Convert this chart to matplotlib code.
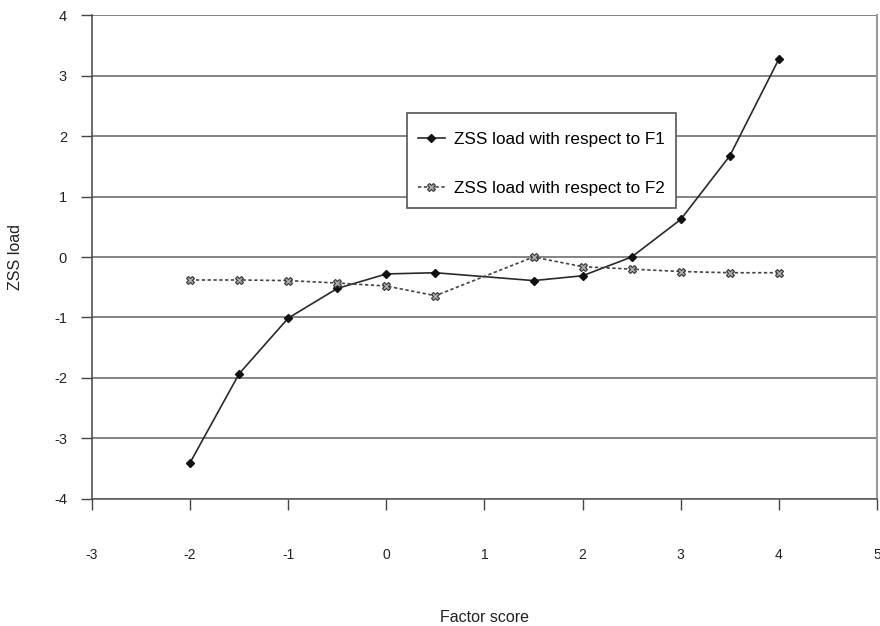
import matplotlib
matplotlib.use("Agg")
import matplotlib.pyplot as plt
from matplotlib.patches import Rectangle

plt.rcParams['font.family'] = ['Liberation Sans', 'DejaVu Sans']
plt.rcParams['axes.unicode_minus'] = False

f1_x = [-2, -1.5, -1, -0.5, 0, 0.5, 1.5, 2, 2.5, 3, 3.5, 4]
f1_y = [-3.40, -1.93, -1.01, -0.52, -0.28, -0.26, -0.39, -0.31, 0.00, 0.62, 1.67, 3.27]
f2_x = [-2, -1.5, -1, -0.5, 0, 0.5, 1.5, 2, 2.5, 3, 3.5, 4]
f2_y = [-0.38, -0.38, -0.39, -0.43, -0.48, -0.64, 0.00, -0.16, -0.20, -0.24, -0.26, -0.26]
x_ticks = [-3, -2, -1, 0, 1, 2, 3, 4, 5]
y_ticks = [-4, -3, -2, -1, 0, 1, 2, 3, 4]

fig = plt.figure(figsize=(8.8, 6.26), dpi=100)
ax = fig.add_axes([0.1045, 0.2029, 0.892, 0.7731])

for y in y_ticks:
    ax.axhline(y, color='#7a7a7a', lw=1.3, zorder=1)

ax.plot(f1_x, f1_y, color='#2a2a2a', lw=1.2, marker='D', ms=4.5,
        mfc='#111111', mec='#111111', label='ZSS load with respect to F1', zorder=3)
ax.plot(f2_x, f2_y, color='#444444', lw=1.2, ls=(0, (2, 1.5)), marker='X', ms=6,
        mfc='#aaaaaa', mec='#333333', mew=0.8, label='ZSS load with respect to F2', zorder=3)

ax.set_xlim(-3, 5)
ax.set_ylim(-4, 4)
ax.set_xticks(x_ticks)
ax.set_yticks(y_ticks)
ax.tick_params(axis='x', direction='out', length=8, width=1, color='#444444',
               pad=27, labelsize=10, labelcolor='#222222')
ax.tick_params(axis='y', direction='out', length=8, width=1, color='#444444',
               pad=10, labelsize=10.5, labelcolor='#222222')

ax.spines['top'].set_visible(False)
ax.spines['right'].set_color('#9a9a9a')
ax.spines['right'].set_linewidth(1.5)
ax.spines['left'].set_color('#444444')
ax.spines['bottom'].set_color('#555555')
ax.spines['left'].set_linewidth(1.1)
ax.spines['bottom'].set_linewidth(1.1)

ax.set_xlabel('Factor score', fontsize=11.5, color='#222222', labelpad=0)
ax.xaxis.set_label_coords(0.5, -0.245)
ax.xaxis.label.set_va('center')
ax.set_ylabel('ZSS load', fontsize=11.5, color='#222222', labelpad=22)

# legend frame
frame = Rectangle((0.401, 0.601), 0.343, 0.197, transform=ax.transAxes,
                  facecolor='white', edgecolor='#555555', lw=1.2, zorder=4)
ax.add_patch(frame)
leg = ax.legend(loc='center', bbox_to_anchor=(0.5725, 0.692), fontsize=12.3,
                frameon=False, handlelength=1.6, labelspacing=1.95,
                borderpad=0.3, handletextpad=0.55, borderaxespad=0)
leg.set_zorder(5)

fig.savefig('out.png', dpi=100, facecolor='white')
